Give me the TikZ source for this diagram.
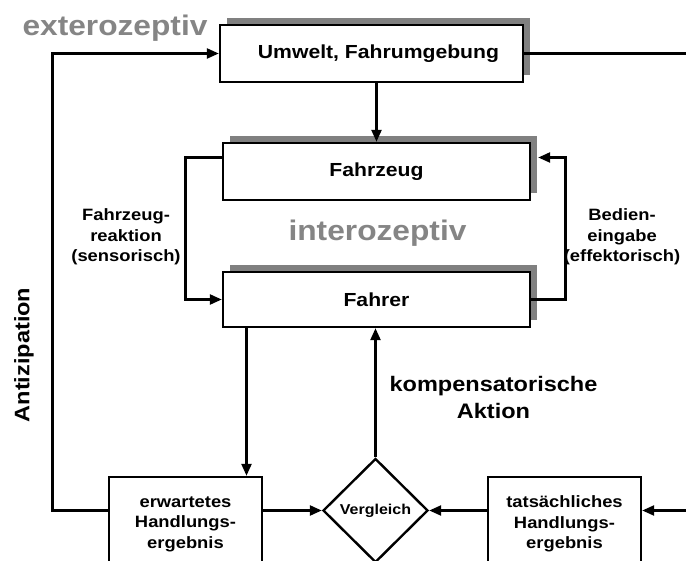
\documentclass[tikz,border=0pt]{standalone}
\usepackage{fontspec}
\setmainfont{Liberation Sans}[FakeStretch=1.12]
\usetikzlibrary{arrows.meta,shapes.geometric,shadows,calc}
\definecolor{shadowgray}{HTML}{808080}
\definecolor{labelgray}{HTML}{858585}
\begin{document}
\begin{tikzpicture}[x=1pt,y=-1pt, line width=2.4pt,
  >={Triangle[length=12pt,width=10pt]},
  box/.style={draw, fill=white, inner sep=0pt, font=\bfseries\fontsize{18.9}{22}\selectfont},
  sbox/.style={box, general shadow={fill=shadowgray, draw=none, shadow xshift=7pt, shadow yshift=7pt}},
  lbl/.style={font=\bfseries\fontsize{16.4}{20.5}\selectfont, align=center, inner sep=0pt},
  big/.style={font=\bfseries\fontsize{28.3}{32}\selectfont, text=labelgray, inner sep=0pt},
  mid/.style={font=\bfseries\fontsize{21}{27}\selectfont, align=center, inner sep=0pt}]
\fill[white] (0,0) rectangle (686,561);
\useasboundingbox (0,0) rectangle (686,561);
\clip (0,0) rectangle (686,561);

% boxes
\node[sbox, minimum width=303pt, minimum height=57pt] (uw) at (371.5,53.5) {\hspace*{14pt}Umwelt, Fahrumgebung};
\node[sbox, minimum width=307pt, minimum height=57pt] (fz) at (376.5,171.5) {Fahrzeug};
\node[sbox, minimum width=307pt, minimum height=55pt] (fa) at (376.5,299.5) {Fahrer};
\node[box, lbl, minimum width=153pt, minimum height=94pt] (erw) at (185.5,524) {erwartetes\\Handlungs-\\ergebnis};
\node[box, lbl, minimum width=153pt, minimum height=94pt] (tat) at (564.5,524) {tatsächliches\\Handlungs-\\ergebnis};
\node[draw, diamond, fill=white, minimum width=105pt, minimum height=104pt, inner sep=0pt,
      font=\bfseries\fontsize{14.3}{16}\selectfont] (dia) at (375.5,510.5) {Vergleich};

% labels
\node[big, anchor=base] (ext) at (115,36) {exterozeptiv};
\node[big, anchor=base] (int) at (377.5,241) {interozeptiv};
\node[lbl] (lfr) at (126,237) {Fahrzeug-\\reaktion\\(sensorisch)};
\node[lbl] (lbe) at (622,237) {Bedien-\\eingabe\\(effektorisch)};
\node[mid] (komp) at (493.5,397) {kompensatorische\\Aktion};
\node[mid, rotate=90] (anti) at (24,355) {Antizipation};

% connector helpers
\coordinate (lt) at (185.5,157.5);
\coordinate (rt) at (565.5,157.5);
\coordinate (dl) at (246.5,0);
\coordinate (ll) at (52.5,0);
\coordinate (re) at (686,0);

% connectors
\draw[->] (uw.south -| fz.north) -- (fz.north);
\draw[->] (lt -| fz.west) -- (lt) |- (fa.west);
\draw[->] (fa.east) -| (rt) -- ($(rt -| fz.east)+(7,0)$);
\draw[->] (fa.south -| dl) -- (erw.north -| dl);
\draw[->] (dia.north) -- (fa.south -| dia.north);
\draw[->] (erw.east |- dia) -- (dia.west);
\draw[->] (tat.west |- dia) -- (dia.east);
\draw[->] (erw.west |- dia) -| (ll |- uw.west) -- (uw.west);
\draw (uw.east) -- (uw.east -| re);
\draw[->] (re |- dia) -- (tat.east |- dia);
\end{tikzpicture}
\end{document}
